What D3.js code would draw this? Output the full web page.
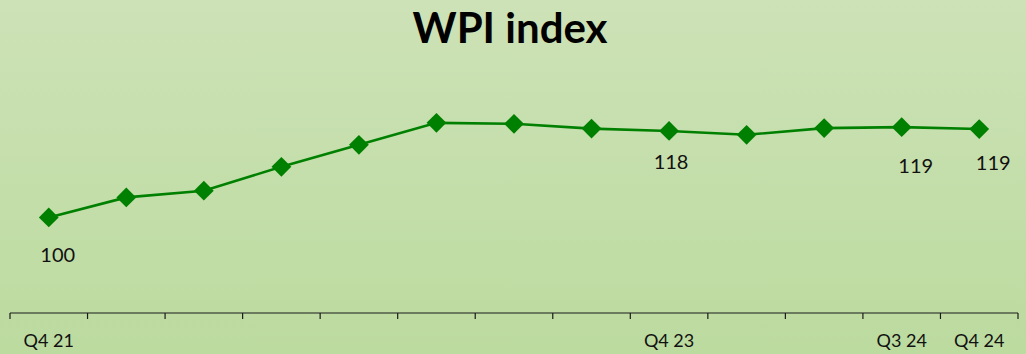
<!DOCTYPE html>
<html>
<head>
<meta charset="utf-8">
<script src="https://cdn.jsdelivr.net/npm/d3@7"></script>
<style>
  html, body { margin: 0; padding: 0; background: #c6e0ab; }
  svg { display: block; }
</style>
</head>
<body>
<svg id="chart" width="1026" height="354"></svg>
<script>
// Quarterly wholesale price index, Q4 2021 = 100
const quarters = ["Q4 21", "Q1 22", "Q2 22", "Q3 22", "Q4 22", "Q1 23", "Q2 23",
                  "Q3 23", "Q4 23", "Q1 24", "Q2 24", "Q3 24", "Q4 24"];
const wpi = [100, 104.2, 105.6, 110.6, 115.2, 119.8, 119.6, 118.6, 118.1, 117.3, 118.7, 118.9, 118.5];
const tickLabels = ["Q4 21", "", "", "", "", "", "", "", "Q4 23", "", "", "Q3 24", "Q4 24"];
const labelled = ["Q4 21", "Q4 23", "Q3 24", "Q4 24"];
// nudges for the value labels, relative to their marker
const labelNudge = { "Q4 21": [9, 38], "Q4 23": [2, 31], "Q3 24": [14, 39], "Q4 24": [14, 34] };

const W = 1026, H = 354;
const svg = d3.select("#chart");

// soft green backdrop
const defs = svg.append("defs");
const bg = defs.append("linearGradient").attr("id", "bg")
  .attr("x1", 0).attr("y1", 0).attr("x2", 0).attr("y2", 1);
bg.append("stop").attr("offset", "0%").attr("stop-color", "#cde2b7");
bg.append("stop").attr("offset", "100%").attr("stop-color", "#bcdb9f");
svg.append("rect").attr("width", W).attr("height", H).attr("fill", "url(#bg)");

// title
svg.append("text")
  .attr("x", 510).attr("y", 43)
  .attr("text-anchor", "middle")
  .attr("font-family", "Lato, 'Open Sans', sans-serif")
  .attr("font-weight", "bold")
  .attr("font-size", 42)
  .attr("fill", "#000")
  .text("WPI index");

const x = d3.scaleBand().domain(quarters).range([10, 1018]);
const y = d3.scaleLinear().domain([80, 125]).range([313, 98]);
const cx = q => x(q) + x.bandwidth() / 2;

// category axis: baseline, ticks at band edges, selected labels
const axisY = 313;
const axis = svg.append("g").attr("class", "x-axis");
axis.append("line")
  .attr("x1", x.range()[0]).attr("x2", x.range()[1])
  .attr("y1", axisY).attr("y2", axisY)
  .attr("stroke", "#1a1a1a").attr("stroke-width", 1.2);
const edges = quarters.map(q => x(q)).concat([x.range()[1]]);
axis.selectAll("line.tick").data(edges).join("line")
  .attr("class", "tick")
  .attr("x1", d => d).attr("x2", d => d)
  .attr("y1", axisY).attr("y2", axisY + 6)
  .attr("stroke", "#1a1a1a").attr("stroke-width", 1.2);
axis.selectAll("text").data(quarters).join("text")
  .attr("x", q => cx(q))
  .attr("y", 347)
  .attr("text-anchor", "middle")
  .attr("font-family", "Lato, 'Open Sans', sans-serif")
  .attr("font-size", 18)
  .attr("fill", "#111")
  .text((q, i) => tickLabels[i]);

// index line
const line = d3.line().x((d, i) => cx(quarters[i])).y(d => y(d));
svg.append("path")
  .datum(wpi)
  .attr("d", line)
  .attr("fill", "none")
  .attr("stroke", "#008000")
  .attr("stroke-width", 2.6);

// diamond markers
const diamond = d3.symbol().type(d3.symbolSquare).size(196);
svg.selectAll("path.marker").data(wpi).join("path")
  .attr("class", "marker")
  .attr("d", diamond)
  .attr("transform", (d, i) => `translate(${cx(quarters[i])},${y(d)}) rotate(45)`)
  .attr("fill", "#008000");

// value labels
const fmt = d3.format(".0f");
svg.selectAll("text.value").data(labelled).join("text")
  .attr("class", "value")
  .attr("x", q => cx(q) + labelNudge[q][0])
  .attr("y", q => y(wpi[quarters.indexOf(q)]) + labelNudge[q][1] + 7)
  .attr("text-anchor", "middle")
  .attr("font-family", "Lato, 'Open Sans', sans-serif")
  .attr("font-size", 20)
  .attr("fill", "#111")
  .text(q => fmt(wpi[quarters.indexOf(q)]));
</script>
</body>
</html>
